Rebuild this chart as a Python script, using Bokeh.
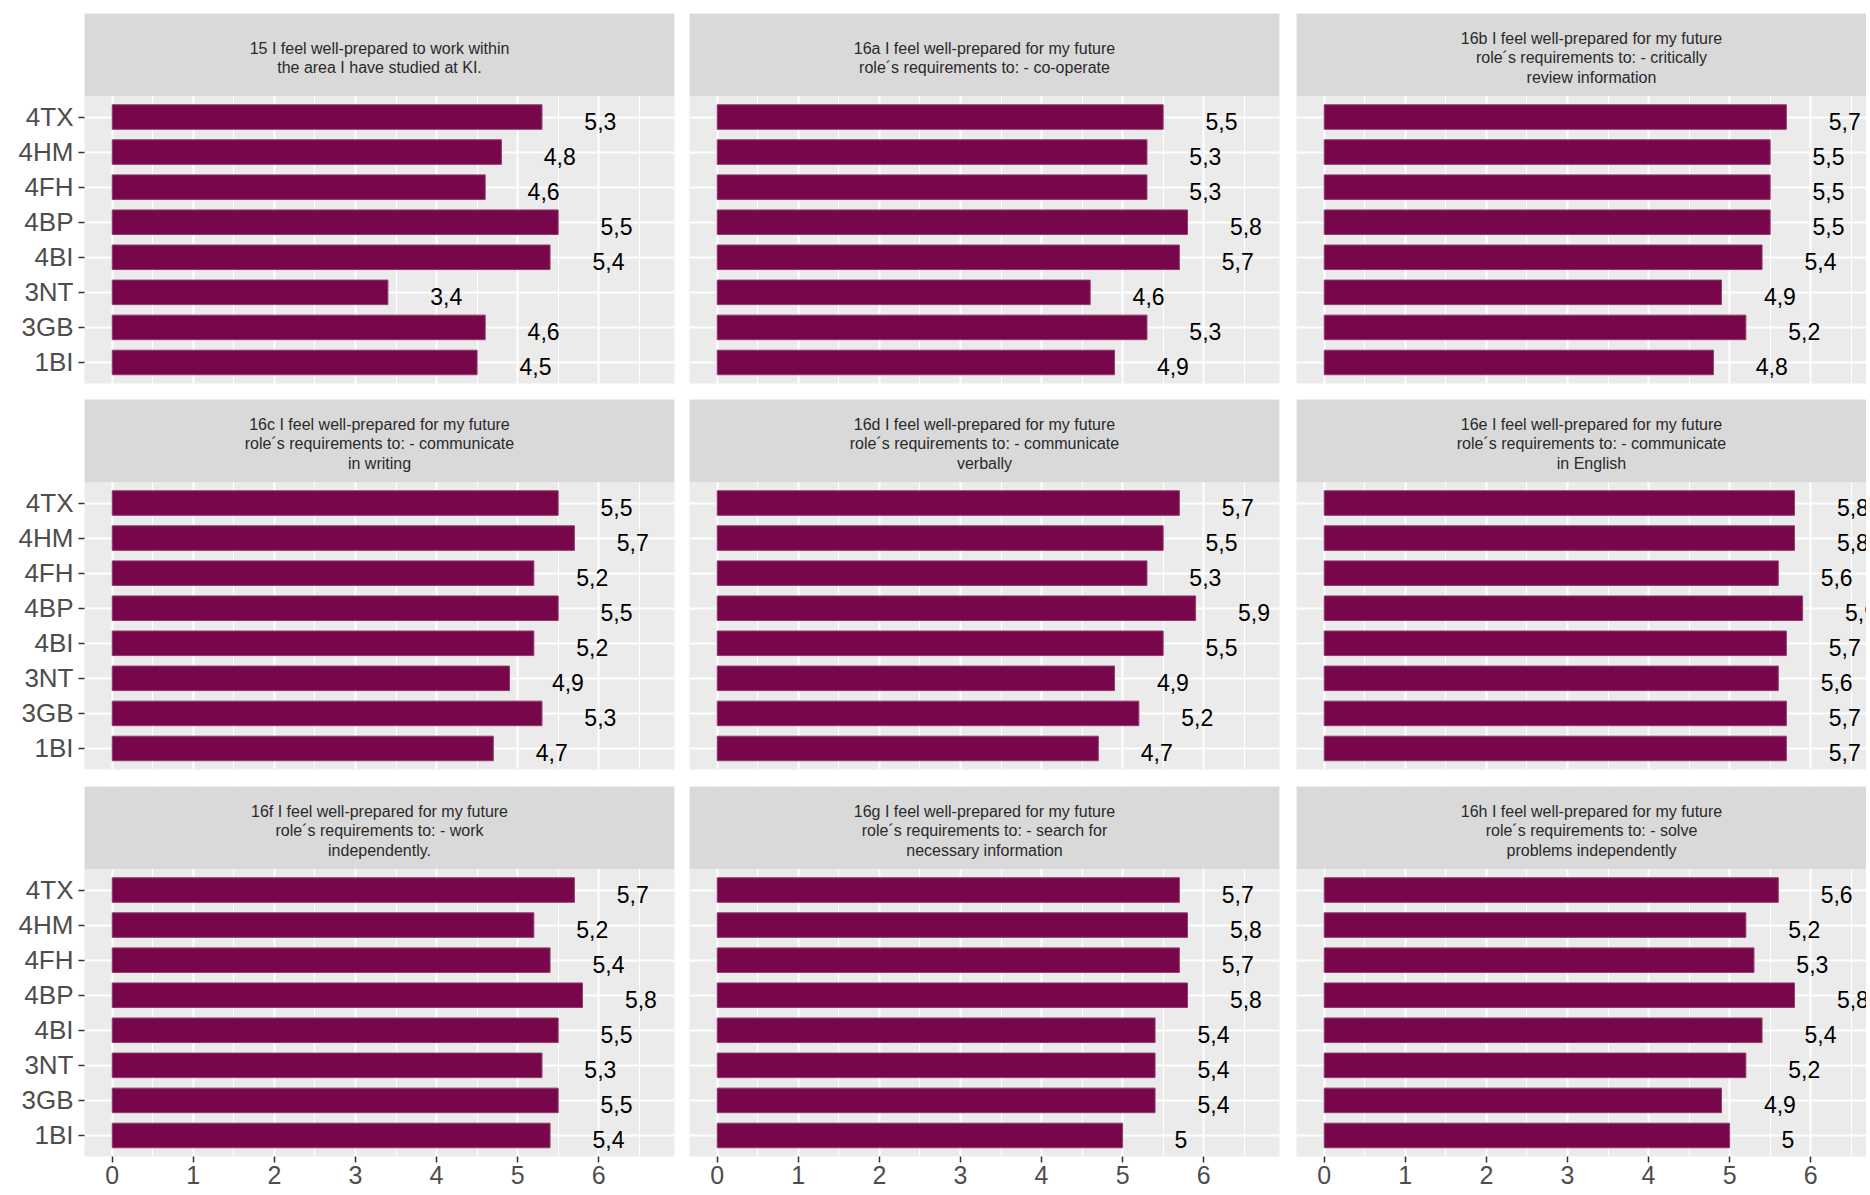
from bokeh.plotting import figure
from bokeh.layouts import row, column
from bokeh.models import Range1d, FixedTicker, BoxAnnotation, ColumnDataSource
from bokeh.core.properties import value
from bokeh.embed import file_html
from bokeh.resources import INLINE

# ---------------- data ----------------
# study programmes, bottom to top as drawn
groups = ["1BI", "3GB", "3NT", "4BI", "4BP", "4FH", "4HM", "4TX"]

titles = [
    "15 I feel well-prepared to work within\nthe area I have studied at KI.",
    "16a I feel well-prepared for my future\nrole´s requirements to: - co-operate",
    "16b I feel well-prepared for my future\nrole´s requirements to: - critically\nreview information",
    "16c I feel well-prepared for my future\nrole´s requirements to: - communicate\nin writing",
    "16d I feel well-prepared for my future\nrole´s requirements to: - communicate\nverbally",
    "16e I feel well-prepared for my future\nrole´s requirements to: - communicate\nin English",
    "16f I feel well-prepared for my future\nrole´s requirements to: - work\nindependently.",
    "16g I feel well-prepared for my future\nrole´s requirements to: - search for\nnecessary information",
    "16h I feel well-prepared for my future\nrole´s requirements to: - solve\nproblems independently",
]

# mean scores, same order as groups (1BI ... 4TX)
q15 = [4.5, 4.6, 3.4, 5.4, 5.5, 4.6, 4.8, 5.3]
q16a = [4.9, 5.3, 4.6, 5.7, 5.8, 5.3, 5.3, 5.5]
q16b = [4.8, 5.2, 4.9, 5.4, 5.5, 5.5, 5.5, 5.7]
q16c = [4.7, 5.3, 4.9, 5.2, 5.5, 5.2, 5.7, 5.5]
q16d = [4.7, 5.2, 4.9, 5.5, 5.9, 5.3, 5.5, 5.7]
q16e = [5.7, 5.7, 5.6, 5.7, 5.9, 5.6, 5.8, 5.8]
q16f = [5.4, 5.5, 5.3, 5.5, 5.8, 5.4, 5.2, 5.7]
q16g = [5.0, 5.4, 5.4, 5.4, 5.8, 5.7, 5.8, 5.7]
q16h = [5.0, 4.9, 5.2, 5.4, 5.8, 5.3, 5.2, 5.6]

series = [q15, q16a, q16b, q16c, q16d, q16e, q16f, q16g, q16h]
x_ticks = [0, 1, 2, 3, 4, 5, 6]

# ---------------- styling / layout ----------------
BAR = "#77074A"
BAR_EDGE = "#8F3C6D"
PANEL_BG = "#EBEBEB"
STRIP_BG = "#D9D9D9"
FONT = "Liberation Sans"

X0 = -0.342          # left limit of every panel
PPX = 81.08          # pixels per x unit
FRAME_H = 370
PANEL_H = 287.5
Y0, YP = 0.4, 8.6    # panel y limits
PPY = PANEL_H / (YP - Y0)
Y1 = YP + (FRAME_H - PANEL_H) / PPY
LABEL_DX = 0.72

col_w = [590, 590, 570]
col_lr = [(84, 15), (0, 17), (0, 0)]
row_tb = [(13, 16), (0, 17), (0, 0)]

ypos = list(range(1, len(groups) + 1))


def fmt(v):
    s = ("%.1f" % v).rstrip("0").rstrip(".")
    return s.replace(".", ",")


def make_panel(i):
    r, c = divmod(i, 3)
    vals = series[i]
    fw = col_w[c]
    xr = Range1d(X0, X0 + fw / PPX)
    yr = Range1d(Y0, Y1)
    p = figure(
        frame_width=fw, frame_height=FRAME_H,
        x_range=xr, y_range=yr,
        x_axis_location="below" if r == 2 else None,
        y_axis_location="left" if c == 0 else None,
        toolbar_location=None, output_backend="svg",
        background_fill_color=PANEL_BG, border_fill_color="white",
        outline_line_color=None, min_border=0,
    )
    p.min_border_left, p.min_border_right = col_lr[c]
    p.min_border_top, p.min_border_bottom = row_tb[r]

    # grids
    p.xgrid.ticker = FixedTicker(ticks=x_ticks, minor_ticks=[t + 0.5 for t in x_ticks])
    p.xgrid.grid_line_color = "white"
    p.xgrid.grid_line_width = 2
    p.xgrid.minor_grid_line_color = "white"
    p.xgrid.minor_grid_line_width = 1.1
    p.ygrid.ticker = FixedTicker(ticks=ypos)
    p.ygrid.grid_line_color = "white"
    p.ygrid.grid_line_width = 2

    # strip
    strip = BoxAnnotation(bottom=YP, fill_color=STRIP_BG, fill_alpha=1.0,
                          line_color=None, level="underlay")
    p.add_layout(strip, "center")
    xc = X0 + 295 / PPX
    yc = Y1 - 44.5 / PPY
    p.text(x=[xc], y=[yc], text=[titles[i]], text_align="center",
           text_baseline="middle", text_font=value(FONT),
           text_font_size="16px", text_line_height=1.12, text_color="#2A2A2A")

    src = ColumnDataSource(dict(
        y=ypos, v=vals, lx=[v + LABEL_DX for v in vals], lab=[fmt(v) for v in vals]))
    p.hbar(y="y", left=0, right="v", height=0.7, source=src,
           fill_color=BAR, line_color=BAR_EDGE, line_width=1)
    p.text(x="lx", y="y", text="lab", source=src, text_align="center",
           text_baseline="middle", y_offset=4, text_font=value(FONT),
           text_font_size="23px", text_color="black")

    if r == 2:
        ax = p.xaxis[0]
        ax.ticker = FixedTicker(ticks=x_ticks, minor_ticks=[])
        ax.axis_line_color = None
        ax.major_tick_line_color = "#333333"
        ax.major_tick_line_width = 1.5
        ax.major_tick_out = 6
        ax.major_tick_in = 0
        ax.minor_tick_line_color = None
        ax.major_label_standoff = 3
        ax.major_label_text_font = FONT
        ax.major_label_text_font_size = "25px"
        ax.major_label_text_color = "#4D4D4D"
    if c == 0:
        ay = p.yaxis[0]
        ay.ticker = FixedTicker(ticks=ypos, minor_ticks=[])
        ay.major_label_overrides = {y: g for y, g in zip(ypos, groups)}
        ay.axis_line_color = None
        ay.major_tick_line_color = "#333333"
        ay.major_tick_line_width = 1.5
        ay.major_tick_out = 6
        ay.major_tick_in = 0
        ay.minor_tick_line_color = None
        ay.major_label_standoff = 5
        ay.major_label_text_font = FONT
        ay.major_label_text_font_size = "26px"
        ay.major_label_text_color = "#4D4D4D"
    return p


panels = [make_panel(i) for i in range(9)]
layout = column(
    row(*panels[0:3], spacing=0),
    row(*panels[3:6], spacing=0),
    row(*panels[6:9], spacing=0),
    spacing=0,
)

open("out.html", "w").write(file_html(layout, INLINE))
